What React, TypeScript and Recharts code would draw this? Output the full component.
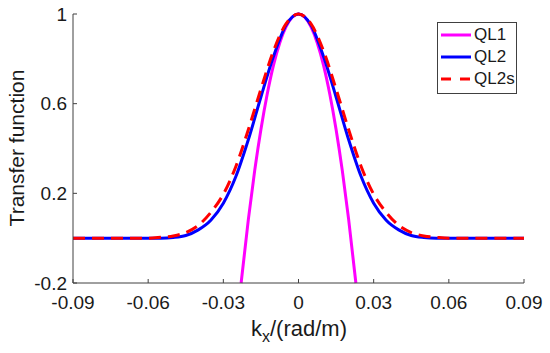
import { LineChart, Line, XAxis, YAxis, Legend } from 'recharts';

// values
const X_TICKS = [-0.09, -0.06, -0.03, 0, 0.03, 0.06, 0.09];
const Y_TICKS = [-0.2, 0.2, 0.6, 1];

const KX_QL1 = [-0.0229, -0.02, -0.0175, -0.015, -0.0125, -0.01, -0.0075, -0.005, -0.0025, 0, 0.0025, 0.005, 0.0075, 0.01, 0.0125, 0.015, 0.0175, 0.02, 0.0229];
const QL1 = [-0.2, 0.085, 0.3, 0.485, 0.642, 0.771, 0.871, 0.943, 0.986, 1, 0.986, 0.943, 0.871, 0.771, 0.642, 0.485, 0.3, 0.085, -0.2];

const KX_QL2 = [-0.09, -0.06, -0.055, -0.05, -0.045, -0.04, -0.035, -0.03, -0.025, -0.02, -0.015, -0.01, -0.005, 0, 0.005, 0.01, 0.015, 0.02, 0.025, 0.03, 0.035, 0.04, 0.045, 0.05, 0.055, 0.06, 0.09];
const QL2 = [0, 0, 0, 0.003, 0.012, 0.037, 0.08, 0.156, 0.275, 0.44, 0.63, 0.81, 0.95, 1, 0.95, 0.81, 0.63, 0.44, 0.275, 0.156, 0.08, 0.037, 0.012, 0.003, 0, 0, 0];
const QL2S = [0, 0, 0.004, 0.01, 0.025, 0.057, 0.115, 0.196, 0.32, 0.485, 0.665, 0.835, 0.956, 1, 0.956, 0.835, 0.665, 0.485, 0.32, 0.196, 0.115, 0.057, 0.025, 0.01, 0.004, 0, 0];

const toRows = (ks: number[], vs: number[]) => ks.map((k, i) => ({ k, v: vs[i] }));

const FONT = '"Liberation Sans", Arial, sans-serif';
const AXIS = '#404040';
const TEXT = '#1a1a1a';

const SERIES = [
  { name: 'QL1', color: '#ff00ff', dash: undefined as string | undefined },
  { name: 'QL2', color: '#0000ff', dash: undefined as string | undefined },
  { name: 'QL2s', color: '#ff0000', dash: '10 9' },
];

function LegendBox() {
  return (
    <div
      style={{
        width: 78,
        height: 69,
        border: `1px solid ${AXIS}`,
        background: '#fff',
        fontFamily: FONT,
        fontSize: 17,
        color: TEXT,
        paddingTop: 1,
        boxSizing: 'content-box',
      }}
    >
      {SERIES.map((s) => (
        <div key={s.name} style={{ display: 'flex', alignItems: 'center', height: 22 }}>
          <svg width={34} height={6} style={{ marginLeft: 2 }}>
            <line x1={1} y1={3} x2={31} y2={3} stroke={s.color} strokeWidth={3} strokeDasharray={s.dash} />
          </svg>
          <span>{s.name}</span>
        </div>
      ))}
    </div>
  );
}

export default function App() {
  const tickStyle = { fontSize: 19, fill: TEXT, fontFamily: FONT };
  return (
    <div style={{ position: 'absolute', left: 0, top: 0, background: '#fff' }}>
      <LineChart width={550} height={353} margin={{ top: 14, right: 26, bottom: 0, left: 0 }}>
        <XAxis
          xAxisId="bottom"
          dataKey="k"
          type="number"
          domain={[-0.09, 0.09]}
          ticks={X_TICKS}
          interval={0}
          height={70}
          tickSize={-4}
          tickMargin={17}
          tick={tickStyle}
          axisLine={{ stroke: AXIS }}
          tickLine={{ stroke: AXIS }}
          label={{
            content: () => (
              <text x={299} y={336} textAnchor="middle" fontSize={22} fill={TEXT} fontFamily={FONT}>
                k<tspan fontSize={16} dy={6}>x</tspan>
                <tspan dy={-6}>/(rad/m)</tspan>
              </text>
            ),
          }}
        />
        <XAxis
          xAxisId="top"
          orientation="top"
          dataKey="k"
          type="number"
          domain={[-0.09, 0.09]}
          ticks={X_TICKS}
          interval={0}
          height={0}
          tickSize={-4}
          tickFormatter={() => ''}
          axisLine={{ stroke: AXIS }}
          tickLine={{ stroke: AXIS }}
        />
        <YAxis
          yAxisId="left"
          type="number"
          domain={[-0.2, 1]}
          ticks={Y_TICKS}
          interval={0}
          width={73}
          tickSize={-4}
          tickMargin={10}
          tick={tickStyle}
          axisLine={{ stroke: AXIS }}
          tickLine={{ stroke: AXIS }}
          label={{
            content: () => (
              <text x={24} y={148} transform="rotate(-90 24 148)" textAnchor="middle" fontSize={21} fill={TEXT} fontFamily={FONT}>
                Transfer function
              </text>
            ),
          }}
        />
        <YAxis
          yAxisId="right"
          orientation="right"
          type="number"
          domain={[-0.2, 1]}
          ticks={Y_TICKS}
          interval={0}
          width={0}
          tickSize={-4}
          tickFormatter={() => ''}
          axisLine={{ stroke: AXIS }}
          tickLine={{ stroke: AXIS }}
        />
        <Legend
          layout="horizontal"
          verticalAlign="middle"
          content={() => <LegendBox />}
          wrapperStyle={{ left: 437, top: 22, width: 80 }}
        />
        <Line
          xAxisId="bottom"
          yAxisId="left"
          data={toRows(KX_QL1, QL1)}
          dataKey="v"
          name="QL1"
          type="monotone"
          stroke="#ff00ff"
          strokeWidth={3}
          dot={false}
          isAnimationActive={false}
        />
        <Line
          xAxisId="bottom"
          yAxisId="left"
          data={toRows(KX_QL2, QL2)}
          dataKey="v"
          name="QL2"
          type="monotone"
          stroke="#0000ff"
          strokeWidth={3}
          dot={false}
          isAnimationActive={false}
        />
        <Line
          xAxisId="bottom"
          yAxisId="left"
          data={toRows(KX_QL2, QL2S)}
          dataKey="v"
          name="QL2s"
          type="monotone"
          stroke="#ff0000"
          strokeWidth={3}
          strokeDasharray="12 7"
          dot={false}
          isAnimationActive={false}
        />
      </LineChart>
    </div>
  );
}
